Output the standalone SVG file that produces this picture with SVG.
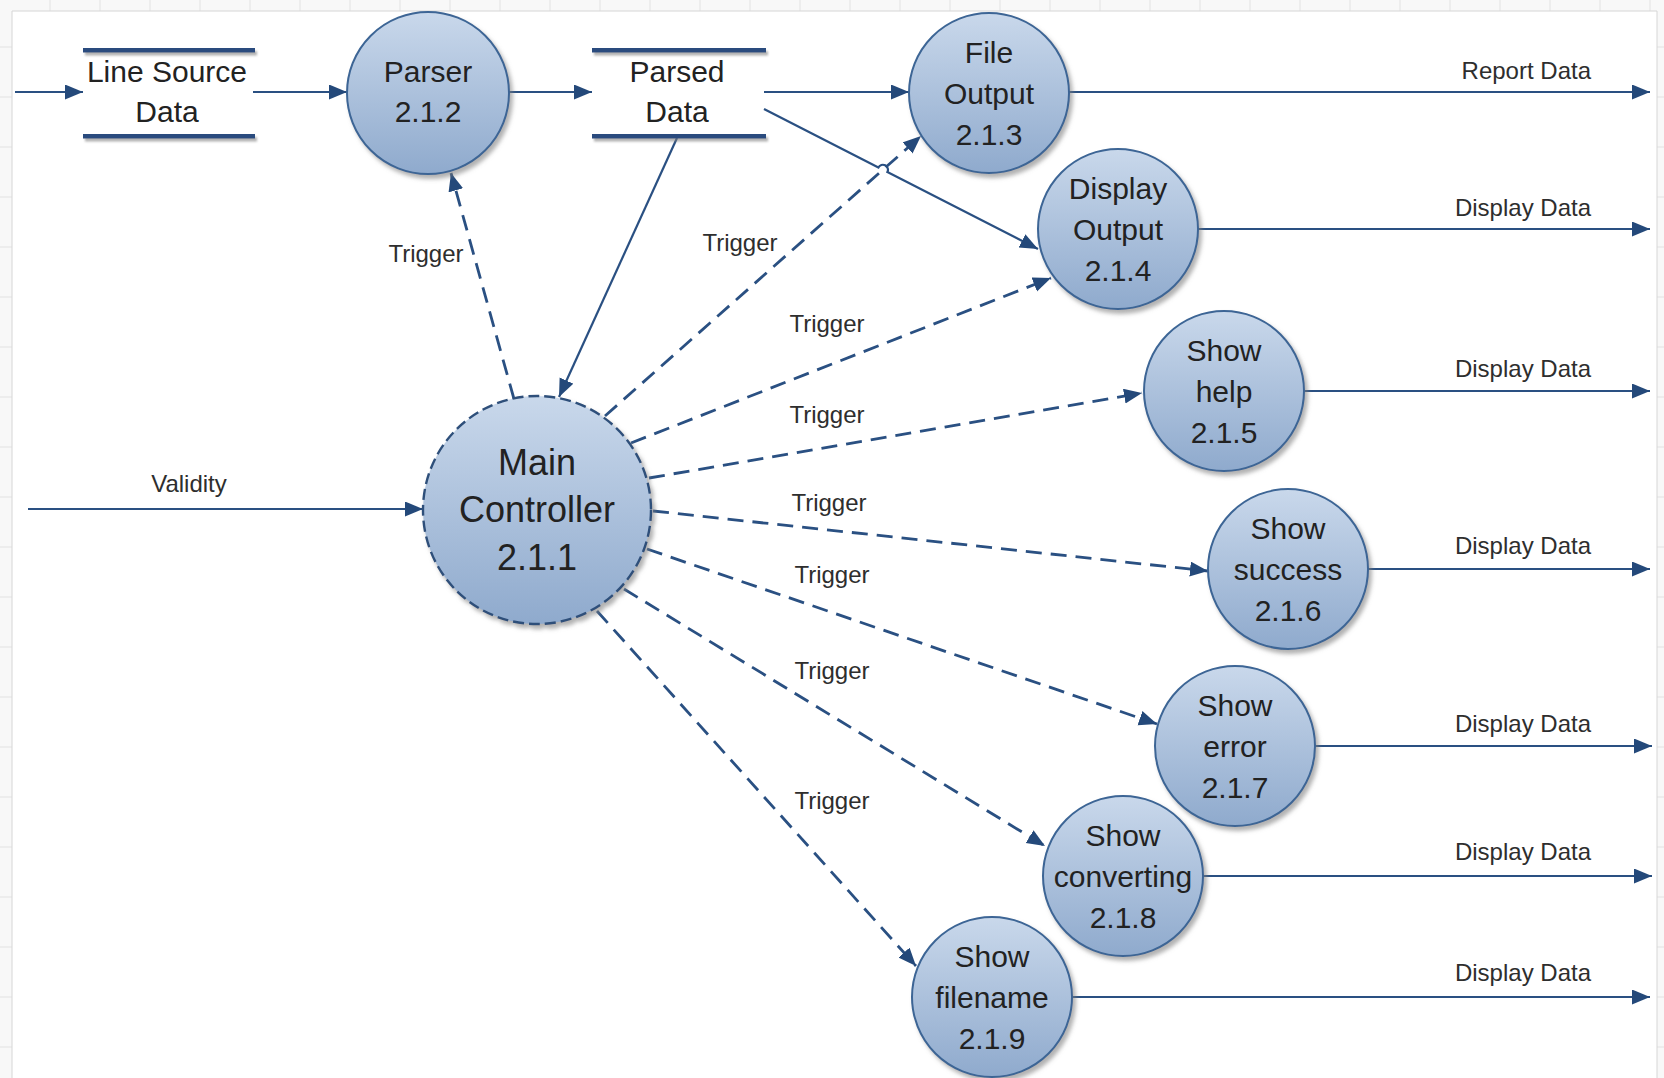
<svg xmlns="http://www.w3.org/2000/svg" width="1664" height="1078" viewBox="0 0 1664 1078">
<defs>
<linearGradient id="nodeFill" x1="0" y1="0" x2="0" y2="1">
<stop offset="0" stop-color="#C9D8EB"/>
<stop offset="1" stop-color="#8FAACD"/>
</linearGradient>
<filter id="shadow" x="-20%" y="-20%" width="150%" height="150%">
<feDropShadow dx="3" dy="4" stdDeviation="2" flood-color="#7F7F7F" flood-opacity="0.6"/>
</filter>
<filter id="barShadow" x="-5%" y="-100%" width="110%" height="400%">
<feDropShadow dx="2" dy="3" stdDeviation="1.2" flood-color="#7F7F7F" flood-opacity="0.6"/>
</filter>
<marker id="arrow" markerUnits="userSpaceOnUse" markerWidth="20" markerHeight="16" refX="18" refY="7.5" orient="auto">
<path d="M0,0 L18,7.5 L0,15 z" fill="#24497A"/>
</marker>
<style>
.grid { stroke:#E2E2E2; stroke-width:1; }
.flow { fill:none; stroke:#2A5082; stroke-width:2.2; marker-end:url(#arrow); }
.trig { fill:none; stroke:#2A5082; stroke-width:2.8; stroke-dasharray:16 9; marker-end:url(#arrow); }
.proc { fill:url(#nodeFill); stroke:#3C6595; stroke-width:2; filter:url(#shadow); }
.main { fill:url(#nodeFill); stroke:#2E4F7A; stroke-width:2.4; stroke-dasharray:11 5; filter:url(#shadow); }
.bar { fill:#2B4C7E; filter:url(#barShadow); }
.nt { font-family:"Liberation Sans", Arial, sans-serif; font-size:30px; fill:#222222; text-anchor:middle; }
.mt { font-family:"Liberation Sans", Arial, sans-serif; font-size:36px; fill:#222222; text-anchor:middle; }
.el { font-family:"Liberation Sans", Arial, sans-serif; font-size:24px; fill:#2E2E2E; }
.er { text-anchor:end; }
.ec { text-anchor:middle; }
</style>
</defs>

<rect x="0" y="0" width="1664" height="1078" fill="#FFFFFF"/>
<g id="background-grid">
<rect x="0" y="0" width="1664" height="11" fill="#F8F8F8"/>
<rect x="0" y="0" width="12" height="1078" fill="#F8F8F8"/>
<rect x="1657" y="0" width="7" height="1078" fill="#F8F8F8"/>
<path class="grid" d="M50,0V11M100,0V11M150,0V11M200,0V11M250,0V11M300,0V11M350,0V11M400,0V11M450,0V11M500,0V11M550,0V11M600,0V11M650,0V11M700,0V11M750,0V11M800,0V11M850,0V11M900,0V11M950,0V11M1000,0V11M1050,0V11M1100,0V11M1150,0V11M1200,0V11M1250,0V11M1300,0V11M1350,0V11M1400,0V11M1450,0V11M1500,0V11M1550,0V11M1600,0V11M1650,0V11"/>
<path class="grid" d="M0,47H12M0,97H12M0,147H12M0,197H12M0,247H12M0,297H12M0,347H12M0,397H12M0,447H12M0,497H12M0,547H12M0,597H12M0,647H12M0,697H12M0,747H12M0,797H12M0,847H12M0,897H12M0,947H12M0,997H12M0,1047H12"/>
<path class="grid" d="M1657,47H1664M1657,97H1664M1657,147H1664M1657,197H1664M1657,247H1664M1657,297H1664M1657,347H1664M1657,397H1664M1657,447H1664M1657,497H1664M1657,547H1664M1657,597H1664M1657,647H1664M1657,697H1664M1657,747H1664M1657,797H1664M1657,847H1664M1657,897H1664M1657,947H1664M1657,997H1664M1657,1047H1664"/>
<path d="M12,11H1657M12,11V1078M1657,11V1078" stroke="#D6D6D6" stroke-width="1" fill="none"/>
</g>

<g id="connectors">
<path class="flow" d="M15,92 L83,92"/>
<path class="flow" d="M253,92 L347,92"/>
<path class="flow" d="M509,92 L592,92"/>
<path class="flow" d="M764,92 L909,92"/>
<path class="flow" d="M764,109 L878.4,167.5 A5,5 0 0 1 887.4,172.1 L1038,249"/>
<path class="flow" d="M677,138 L559,397"/>
<path class="flow" d="M1069,92 L1650,92"/>
<path class="flow" d="M1198,229 L1650,229"/>
<path class="flow" d="M1304,391 L1650,391"/>
<path class="flow" d="M1368,569 L1650,569"/>
<path class="flow" d="M1315,746 L1652,746"/>
<path class="flow" d="M1203,876 L1652,876"/>
<path class="flow" d="M1072,997 L1650,997"/>
<path class="flow" d="M28,509 L423,509"/>
<path class="trig" d="M514,399 L451,173"/>
<path class="trig" d="M605,416 L921,136"/>
<path class="trig" d="M631,443 L1051,278"/>
<path class="trig" d="M649,478 L1142,393"/>
<path class="trig" d="M653,511 L1208,571"/>
<path class="trig" d="M647,549 L1157,724"/>
<path class="trig" d="M624,589 L1045,846"/>
<path class="trig" d="M597,611 L916,966"/>
<text class="el er" x="1591" y="79">Report Data</text>
<text class="el er" x="1591" y="216">Display Data</text>
<text class="el er" x="1591" y="377">Display Data</text>
<text class="el er" x="1591" y="554">Display Data</text>
<text class="el er" x="1591" y="732">Display Data</text>
<text class="el er" x="1591" y="860">Display Data</text>
<text class="el er" x="1591" y="981">Display Data</text>
<text class="el ec" x="189" y="492">Validity</text>
<text class="el ec" x="426" y="262">Trigger</text>
<text class="el ec" x="740" y="251">Trigger</text>
<text class="el ec" x="827" y="332">Trigger</text>
<text class="el ec" x="827" y="423">Trigger</text>
<text class="el ec" x="829" y="511">Trigger</text>
<text class="el ec" x="832" y="583">Trigger</text>
<text class="el ec" x="832" y="679">Trigger</text>
<text class="el ec" x="832" y="809">Trigger</text>
</g>

<g id="store-line-source-data">
<rect class="bar" x="83" y="48" width="172" height="4.5"/>
<rect class="bar" x="83" y="134" width="172" height="4.5"/>
<text class="nt" x="167" y="82">Line Source</text>
<text class="nt" x="167" y="122">Data</text>
</g>

<g id="store-parsed-data">
<rect class="bar" x="592" y="48" width="174" height="4.5"/>
<rect class="bar" x="592" y="134" width="174" height="4.5"/>
<text class="nt" x="677" y="82">Parsed</text>
<text class="nt" x="677" y="122">Data</text>
</g>

<g id="node-parser">
<circle class="proc" cx="428" cy="93" r="81"/>
<text class="nt" x="428" y="82">Parser</text>
<text class="nt" x="428" y="122">2.1.2</text>
</g>

<g id="node-file-output">
<circle class="proc" cx="989" cy="93" r="80"/>
<text class="nt" x="989" y="63">File</text>
<text class="nt" x="989" y="104">Output</text>
<text class="nt" x="989" y="145">2.1.3</text>
</g>

<g id="node-display-output">
<circle class="proc" cx="1118" cy="229" r="80"/>
<text class="nt" x="1118" y="199">Display</text>
<text class="nt" x="1118" y="240">Output</text>
<text class="nt" x="1118" y="281">2.1.4</text>
</g>

<g id="node-show-help">
<circle class="proc" cx="1224" cy="391" r="80"/>
<text class="nt" x="1224" y="361">Show</text>
<text class="nt" x="1224" y="402">help</text>
<text class="nt" x="1224" y="443">2.1.5</text>
</g>

<g id="node-show-success">
<circle class="proc" cx="1288" cy="569" r="80"/>
<text class="nt" x="1288" y="539">Show</text>
<text class="nt" x="1288" y="580">success</text>
<text class="nt" x="1288" y="621">2.1.6</text>
</g>

<g id="node-show-error">
<circle class="proc" cx="1235" cy="746" r="80"/>
<text class="nt" x="1235" y="716">Show</text>
<text class="nt" x="1235" y="757">error</text>
<text class="nt" x="1235" y="798">2.1.7</text>
</g>

<g id="node-show-converting">
<circle class="proc" cx="1123" cy="876" r="80"/>
<text class="nt" x="1123" y="846">Show</text>
<text class="nt" x="1123" y="887">converting</text>
<text class="nt" x="1123" y="928">2.1.8</text>
</g>

<g id="node-show-filename">
<circle class="proc" cx="992" cy="997" r="80"/>
<text class="nt" x="992" y="967">Show</text>
<text class="nt" x="992" y="1008">filename</text>
<text class="nt" x="992" y="1049">2.1.9</text>
</g>

<g id="node-main-controller">
<circle class="main" cx="537" cy="510" r="114"/>
<text class="mt" x="537" y="475">Main</text>
<text class="mt" x="537" y="522">Controller</text>
<text class="mt" x="537" y="570">2.1.1</text>
</g>
</svg>
